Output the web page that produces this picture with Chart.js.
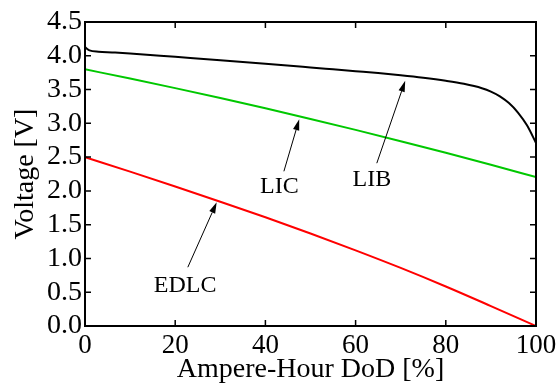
<!DOCTYPE html>
<html>
<head>
<meta charset="utf-8">
<script src="https://cdn.jsdelivr.net/npm/chart.js@4/dist/chart.umd.min.js"></script>
<style>
  html, body { margin: 0; padding: 0; background: #fff; }
</style>
</head>
<body>
<canvas id="chart1" width="558" height="383"></canvas>
<script>
// tick labels
var xTicks = [0, 20, 40, 60, 80, 100];
var yTicks = [0, 0.5, 1.0, 1.5, 2.0, 2.5, 3.0, 3.5, 4.0, 4.5];

// LIB (black)
var libDod  = [0, 0.5, 1, 3, 6, 10, 20, 30, 40, 50, 55, 60, 65, 70, 75, 80, 84, 88, 90, 92, 94, 96, 98, 100];
var libVolt = [4.13, 4.10, 4.08, 4.06, 4.05, 4.035, 3.985, 3.935, 3.883, 3.828, 3.80, 3.772, 3.744, 3.712, 3.675, 3.63, 3.585, 3.52, 3.47, 3.40, 3.30, 3.16, 2.97, 2.71];

// LIC (green)
var licDod  = [0, 10, 20, 30, 40, 50, 60, 70, 80, 90, 100];
var licVolt = [3.80, 3.663, 3.521, 3.374, 3.222, 3.065, 2.903, 2.736, 2.564, 2.387, 2.205];

// EDLC (red)
var edlcDod  = [0, 10, 20, 30, 40, 50, 60, 70, 80, 90, 100];
var edlcVolt = [2.50, 2.285, 2.065, 1.84, 1.61, 1.37, 1.12, 0.86, 0.585, 0.295, 0.00];

// labels with arrows (data units)
var annoText  = ['LIB', 'LIC', 'EDLC'];
var annoTextX = [63.6, 43.1, 22.2];
var annoTextY = [2.17, 2.06, 0.60];
var annoTailX = [64.7, 44.1, 22.8];
var annoTailY = [2.41, 2.29, 0.87];
var annoTipX  = [71.0, 47.5, 29.2];
var annoTipY  = [3.63, 3.06, 1.83];

var serif = "'Liberation Serif', 'Times New Roman', serif";

function toPoints(xs, ys) {
  var pts = [];
  for (var i = 0; i < xs.length; i++) {
    pts.push({x: xs[i], y: ys[i]});
  }
  return pts;
}

///////////////////////////////////////////////////////////////////

var framePlugin = {
  id: 'frame',
  afterDatasetsDraw: function (chart) {
    var ctx = chart.ctx;
    var a = chart.chartArea;
    var xs = chart.scales.x;
    var ys = chart.scales.y;
    ctx.save();
    ctx.strokeStyle = '#000';
    // inward ticks on all four sides
    ctx.lineWidth = 1.5;
    ctx.beginPath();
    for (var i = 0; i < xTicks.length; i++) {
      var px = xs.getPixelForValue(xTicks[i]);
      ctx.moveTo(px, a.bottom); ctx.lineTo(px, a.bottom - 6);
      ctx.moveTo(px, a.top); ctx.lineTo(px, a.top + 6);
    }
    for (var j = 0; j < yTicks.length; j++) {
      var py = ys.getPixelForValue(yTicks[j]);
      ctx.moveTo(a.left, py); ctx.lineTo(a.left + 6, py);
      ctx.moveTo(a.right, py); ctx.lineTo(a.right - 6, py);
    }
    ctx.stroke();
    ctx.lineWidth = 2;
    ctx.strokeRect(a.left, a.top, a.right - a.left, a.bottom - a.top);

    // arrows and labels
    ctx.lineWidth = 1;
    ctx.fillStyle = '#000';
    for (var k = 0; k < annoText.length; k++) {
      var x0 = xs.getPixelForValue(annoTailX[k]);
      var y0 = ys.getPixelForValue(annoTailY[k]);
      var x1 = xs.getPixelForValue(annoTipX[k]);
      var y1 = ys.getPixelForValue(annoTipY[k]);
      var ang = Math.atan2(y1 - y0, x1 - x0);
      var hl = 11, hw = 3.2;
      var bx = x1 - hl * Math.cos(ang), by = y1 - hl * Math.sin(ang);
      ctx.beginPath();
      ctx.moveTo(x0, y0);
      ctx.lineTo(bx, by);
      ctx.stroke();
      ctx.beginPath();
      ctx.moveTo(x1, y1);
      ctx.lineTo(bx + hw * Math.sin(ang), by - hw * Math.cos(ang));
      ctx.lineTo(bx - hw * Math.sin(ang), by + hw * Math.cos(ang));
      ctx.closePath();
      ctx.fill();

      ctx.font = '24px ' + serif;
      ctx.textAlign = 'center';
      ctx.textBaseline = 'middle';
      ctx.fillText(annoText[k], xs.getPixelForValue(annoTextX[k]), ys.getPixelForValue(annoTextY[k]));
    }
    ctx.restore();
  }
};

///////////////////////////////////////////////////////////////////

function makeChart() {
  var ctx = document.getElementById('chart1').getContext('2d');
  var chart = new Chart(ctx, {
    type: 'line',
    data: {
      datasets: [{
        label: 'LIB',
        data: toPoints(libDod, libVolt),
        borderColor: '#000000',
        borderWidth: 2,
        pointRadius: 0,
        fill: false,
        cubicInterpolationMode: 'monotone'
      }, {
        label: 'LIC',
        data: toPoints(licDod, licVolt),
        borderColor: '#00c800',
        borderWidth: 2,
        pointRadius: 0,
        fill: false,
        cubicInterpolationMode: 'monotone'
      }, {
        label: 'EDLC',
        data: toPoints(edlcDod, edlcVolt),
        borderColor: '#ff0000',
        borderWidth: 2,
        pointRadius: 0,
        fill: false,
        cubicInterpolationMode: 'monotone'
      }]
    },
    options: {
      responsive: false,
      animation: false,
      devicePixelRatio: 1,
      layout: { padding: { top: 22, right: 22, bottom: 0, left: 0 } },
      plugins: {
        legend: { display: false },
        tooltip: { enabled: false }
      },
      scales: {
        x: {
          type: 'linear',
          min: 0,
          max: 100,
          grid: { display: false, drawTicks: false },
          border: { display: false },
          afterBuildTicks: function (scale) {
            scale.ticks = xTicks.map(function (v) { return {value: v}; });
          },
          afterFit: function (scale) {
            scale.height = 57;
            scale.paddingLeft = 0;
            scale.paddingRight = 0;
          },
          ticks: {
            color: '#000',
            padding: 4,
            maxRotation: 0,
            autoSkip: false,
            font: { family: serif, size: 27 }
          },
          title: {
            display: true,
            text: 'Ampere-Hour DoD [%]',
            color: '#000',
            padding: { top: 0, bottom: -3 },
            font: { family: serif, size: 28 }
          }
        },
        y: {
          type: 'linear',
          min: 0,
          max: 4.5,
          grid: { display: false, drawTicks: false },
          border: { display: false },
          afterBuildTicks: function (scale) {
            scale.ticks = yTicks.map(function (v) { return {value: v}; });
          },
          afterFit: function (scale) {
            scale.width = 85;
            scale.paddingTop = 0;
            scale.paddingBottom = 0;
          },
          ticks: {
            color: '#000',
            padding: 3,
            autoSkip: false,
            font: { family: serif, size: 28 },
            callback: function (v) { return Number(v).toFixed(1); }
          },
          title: {
            display: true,
            text: 'Voltage [V]',
            color: '#000',
            padding: { top: 9, bottom: 0 },
            font: { family: serif, size: 28 }
          }
        }
      }
    },
    plugins: [framePlugin]
  });
  return chart;
}

makeChart();
</script>
</body>
</html>
